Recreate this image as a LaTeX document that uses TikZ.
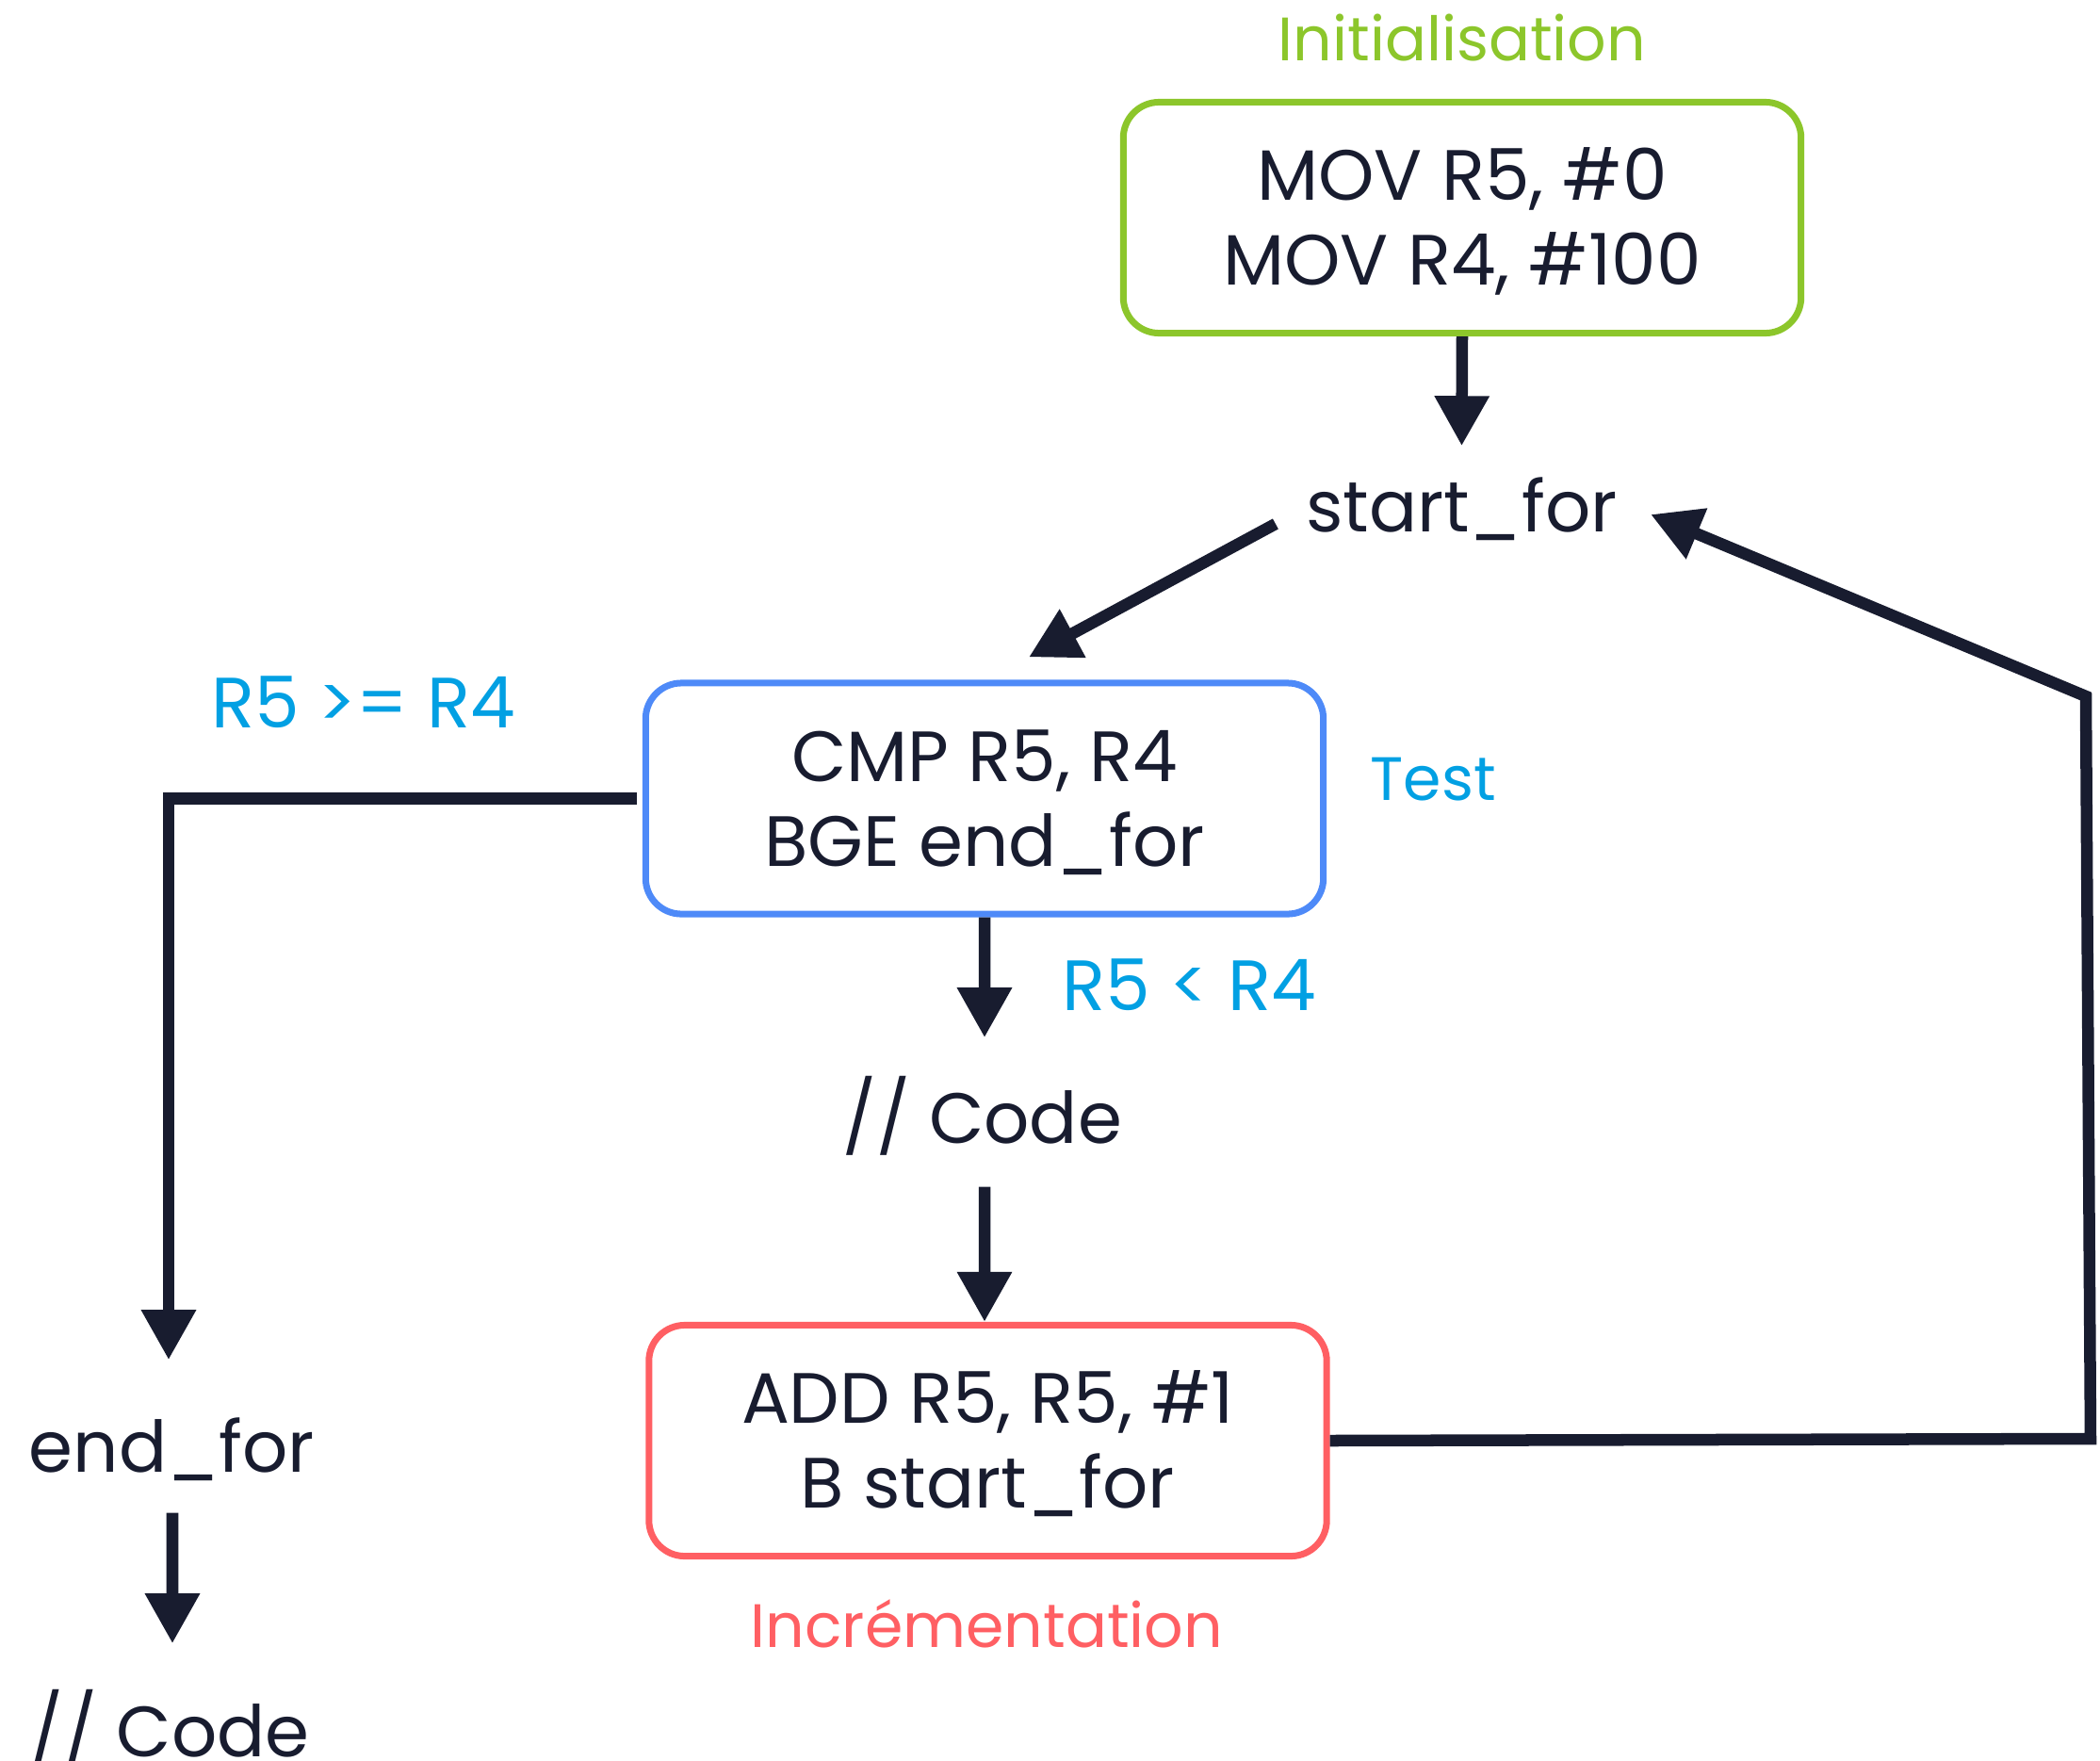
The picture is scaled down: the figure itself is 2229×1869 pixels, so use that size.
\documentclass[tikz,border=0pt]{standalone}
\usepackage{fontspec}
\setmainfont{Poppins}
\usetikzlibrary{arrows.meta}
\definecolor{ink}{HTML}{181C2F}
\definecolor{initgreen}{HTML}{8CC62B}
\definecolor{testblue}{HTML}{4E8AF8}
\definecolor{lblblue}{HTML}{02A0E3}
\definecolor{incred}{HTML}{FF5F63}
\newcommand{\mainsize}{\fontsize{21.5pt}{25.6pt}\selectfont}
\newcommand{\lblsize}{\fontsize{18.5pt}{22pt}\selectfont}
\begin{document}
\begin{tikzpicture}[x=0.01cm,y=-0.01cm,
  arr/.style={draw=ink, line width=0.125cm, -{Triangle[length=0.53cm,width=0.55cm]}},
  box/.style={draw=#1, line width=0.07cm, rounded corners=0.38cm,
    minimum width=7.19cm, minimum height=2.45cm, align=center, text=ink,
    font=\mainsize, text height=1.43cm, text depth=0cm, inner sep=0pt},
  code/.style={text=ink, font=\mainsize, inner sep=0pt,
    text height=0.55cm, text depth=0.15cm, anchor=base},
  lbl/.style={font=\lblsize, inner sep=0pt, anchor=base},
  biglbl/.style={font=\mainsize, inner sep=0pt, anchor=base, text=lblblue}]
\useasboundingbox (0,0) rectangle (2229,1869);

% boxes
\node[box=initgreen] (init) at (1552,231) {MOV R5, \#0\\MOV R4, \#100};
\node[box=testblue] (test) at (1045,847.5) {CMP R5, R4\\BGE end\_for};
\node[box=incred] (incr) at (1048.5,1529) {ADD R5, R5, \#1\\B start\_for};

% plain text nodes
\node[code] (start) at (1551.5,564) {start\_for};
\node[code] (code1) at (1042.5,1213) {// Code};
\node[code] (endfor) at (182.5,1562) {end\_for};
\node[code] (code2) at (180,1864) {// Code};

% labels
\node[lbl, text=initgreen] (linit) at (1552,64) {Initialisation};
\node[lbl, text=lblblue, anchor=base west] (ltest) at (1454,849) {Test};
\node[lbl, text=incred] (lincr) at (1047.5,1748) {Incrémentation};
\node[biglbl] (lge) at (385.5,772) {R5 >= R4};
\node[biglbl, anchor=base west] (llt) at (1127,1072) {R5 < R4};

% connectors
\coordinate (c1) at (2219,1527);
\coordinate (c2) at (2214,739);

\draw[arr] (init.south) -- ([yshift=0.35cm]start.north);
\draw[arr] ([xshift=-1.975cm,yshift=-0.12cm]start.center) -- ([xshift=0.47cm,yshift=0.24cm]test.north);
\draw[arr] ([xshift=-0.06cm]test.west) -| ([xshift=-0.035cm,yshift=0.63cm]endfor.north);
\draw[arr] ([xshift=0.005cm,yshift=-0.28cm]endfor.south) -- ([xshift=0.03cm,yshift=0.64cm]code2.north);
\draw[arr] (test.south) -- ([xshift=0.025cm,yshift=0.56cm]code1.north);
\draw[arr] ([xshift=0.025cm,yshift=-0.31cm]code1.south) -- ([xshift=-0.035cm]incr.north);
\draw[arr, line join=miter] (incr.east) -- (c1) -- (c2) -- ([xshift=2.005cm,yshift=-0.02cm]start.center);
\end{tikzpicture}
\end{document}
